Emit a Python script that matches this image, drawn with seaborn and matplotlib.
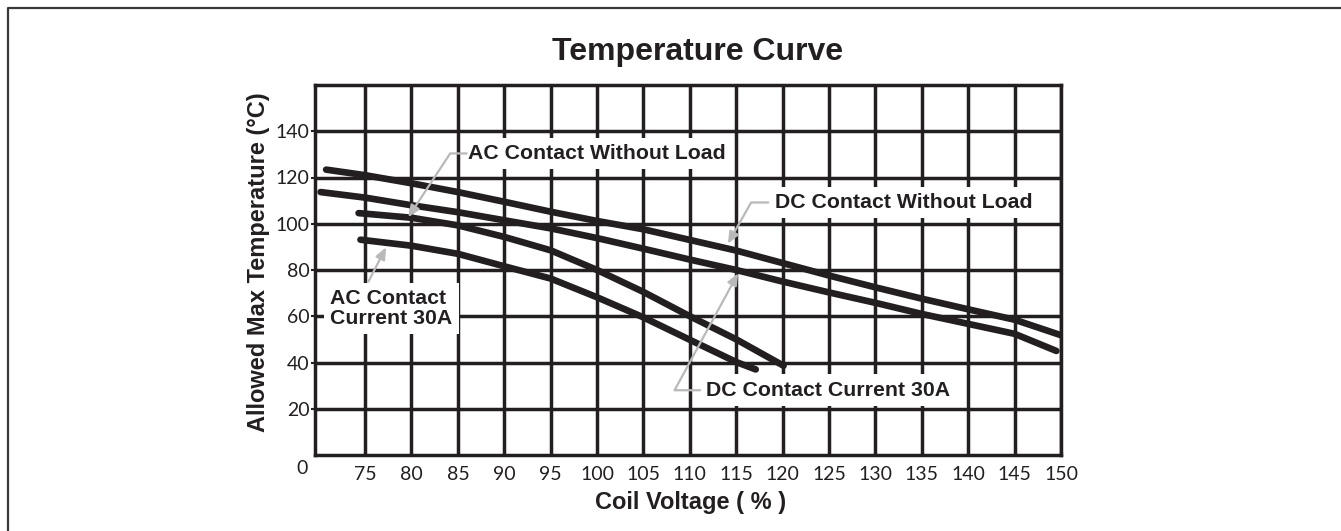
import matplotlib
matplotlib.use("Agg")
import matplotlib.pyplot as plt
from matplotlib.lines import Line2D
import numpy as np
import pandas as pd
import seaborn as sns

# Curve readings: coil voltage (%) vs allowed maximum temperature (°C)
dc_noload_v = [70.8, 75, 80, 85, 90, 95, 100, 105, 110, 115, 120, 125, 130, 135, 140, 145, 150]
dc_noload_t = [123.4, 121.0, 117.5, 113.7, 109.5, 105.2, 101.2, 97.6, 93.0, 88.4, 83.0, 77.6, 72.5, 67.6, 63.0, 58.5, 51.8]

dc_30a_v = [70.2, 75, 80, 85, 90, 95, 100, 105, 110, 115, 120, 125, 130, 135, 140, 145, 149.5]
dc_30a_t = [113.7, 111.3, 108.0, 105.0, 101.5, 98.0, 93.8, 89.2, 84.5, 80.0, 75.0, 70.3, 65.8, 61.0, 56.7, 52.4, 45.0]

ac_noload_v = [74.3, 80, 85, 90, 95, 100, 105, 110, 115, 120.1]
ac_noload_t = [104.6, 102.6, 99.3, 94.3, 88.5, 80.0, 70.5, 60.0, 50.0, 38.6]

ac_30a_v = [74.5, 80, 85, 90, 95, 100, 105, 110, 115, 117.1]
ac_30a_t = [93.1, 90.5, 87.0, 81.6, 76.3, 68.2, 59.5, 49.8, 40.2, 37.0]

x_ticks = [75, 80, 85, 90, 95, 100, 105, 110, 115, 120, 125, 130, 135, 140, 145, 150]
y_ticks = [20, 40, 60, 80, 100, 120, 140]

series_names = ["DC Contact Without Load", "DC Contact Current 30A",
                "AC Contact Without Load", "AC Contact Current 30A"]

frames = []
for name, v, t in zip(series_names,
                      [dc_noload_v, dc_30a_v, ac_noload_v, ac_30a_v],
                      [dc_noload_t, dc_30a_t, ac_noload_t, ac_30a_t]):
    frames.append(pd.DataFrame({"voltage": v, "temp": t, "series": name}))
df = pd.concat(frames, ignore_index=True)

sns.set_style("white")
plt.rcParams["font.family"] = ["Liberation Sans", "DejaVu Sans"]

INK = "#231f20"
ARROW = "#b9b9b9"

fig = plt.figure(figsize=(13.41, 5.31), dpi=100)
ax = fig.add_axes([315 / 1341, 1 - 455 / 531, (1061 - 315) / 1341, (455 - 85) / 531])

sns.lineplot(data=df, x="voltage", y="temp", hue="series", units="series",
             estimator=None, sort=False, palette=[INK] * 4, legend=False,
             linewidth=4.8, solid_capstyle="round", ax=ax, zorder=4)

ax.set_xlim(69.6, 150)
ax.set_ylim(0, 160)
ax.set_xticks(x_ticks)
ax.set_yticks(y_ticks)
ax.set_axisbelow(True)
ax.grid(True, color=INK, linewidth=2.5)
for s in ax.spines.values():
    s.set_visible(True)
    s.set_color(INK)
    s.set_linewidth(2.5)

tick_font = dict(family=["Lato", "DejaVu Sans"], weight="normal", size=14, color=INK)
ax.set_xticklabels([str(v) for v in x_ticks], fontdict=tick_font)
ax.set_yticklabels([str(v) for v in y_ticks], fontdict=tick_font)
ax.tick_params(axis="x", length=0, pad=8)
ax.tick_params(axis="y", length=3, width=1.5, color=INK, pad=1, left=True)
ax.annotate("0", xy=(0, 0), xycoords="axes fraction", xytext=(-9, -10),
            textcoords="offset points", ha="center", va="center",
            fontfamily=["Lato", "DejaVu Sans"], fontsize=14, color=INK)

ax.set_xlabel("")
ax.set_ylabel("")

fig.text(698 / 1341, 1 - 52 / 531, "Temperature Curve", ha="center", va="center",
         fontsize=23, fontweight="bold", color=INK)
fig.text(691 / 1341, 1 - 502 / 531, "Coil Voltage ( % )", ha="center", va="center",
         fontsize=17, fontweight="bold", color=INK)
fig.text(258 / 1341, 1 - 262 / 531, "Allowed Max Temperature (°C)", ha="center",
         va="center", rotation=90, fontsize=17, fontweight="bold", color=INK)

label_kw = dict(fontsize=15.3, fontweight="bold", color=INK, zorder=3,
                bbox=dict(boxstyle="square,pad=0.3", fc="white", ec="none"))


def callout(text, text_xy, start, tip, angle=None, **kw):
    ax.text(*text_xy, text, **label_kw, **kw)
    cs = "arc3,rad=0" if angle is None else f"angle,angleA=0,angleB={angle},rad=0"
    ax.annotate("", xy=tip, xytext=start, zorder=5,
                arrowprops=dict(arrowstyle="-|>,head_length=0.7,head_width=0.3",
                                color=ARROW, lw=1.6, shrinkA=0, shrinkB=0,
                                connectionstyle=cs))


callout("AC Contact Without Load", (86.1, 130.4), (85.95, 130.4), (79.65, 102.8), angle=56.7,
        ha="left", va="center")
callout("AC Contact\nCurrent 30A", (71.23, 63.4), (75.36, 75.0), (77.26, 89.8),
        ha="left", va="center", multialignment="left", linespacing=1.05)
callout("DC Contact Without Load", (119.2, 109.2), (118.45, 109.2), (114.1, 91.4), angle=60.6,
        ha="left", va="center")
callout("DC Contact Current 30A", (111.7, 28.0), (111.1, 28.0), (115.2, 78.6), angle=61.5,
        ha="left", va="center")

# Frame around the figure (left and top edges)
fig.add_artist(Line2D([8 / 1341, 8 / 1341, 1.0], [0.0, 1 - 8 / 531, 1 - 8 / 531],
                      transform=fig.transFigure, color="#3a3a3a", linewidth=1.6))

fig.savefig("out.png", dpi=100, facecolor="white")
